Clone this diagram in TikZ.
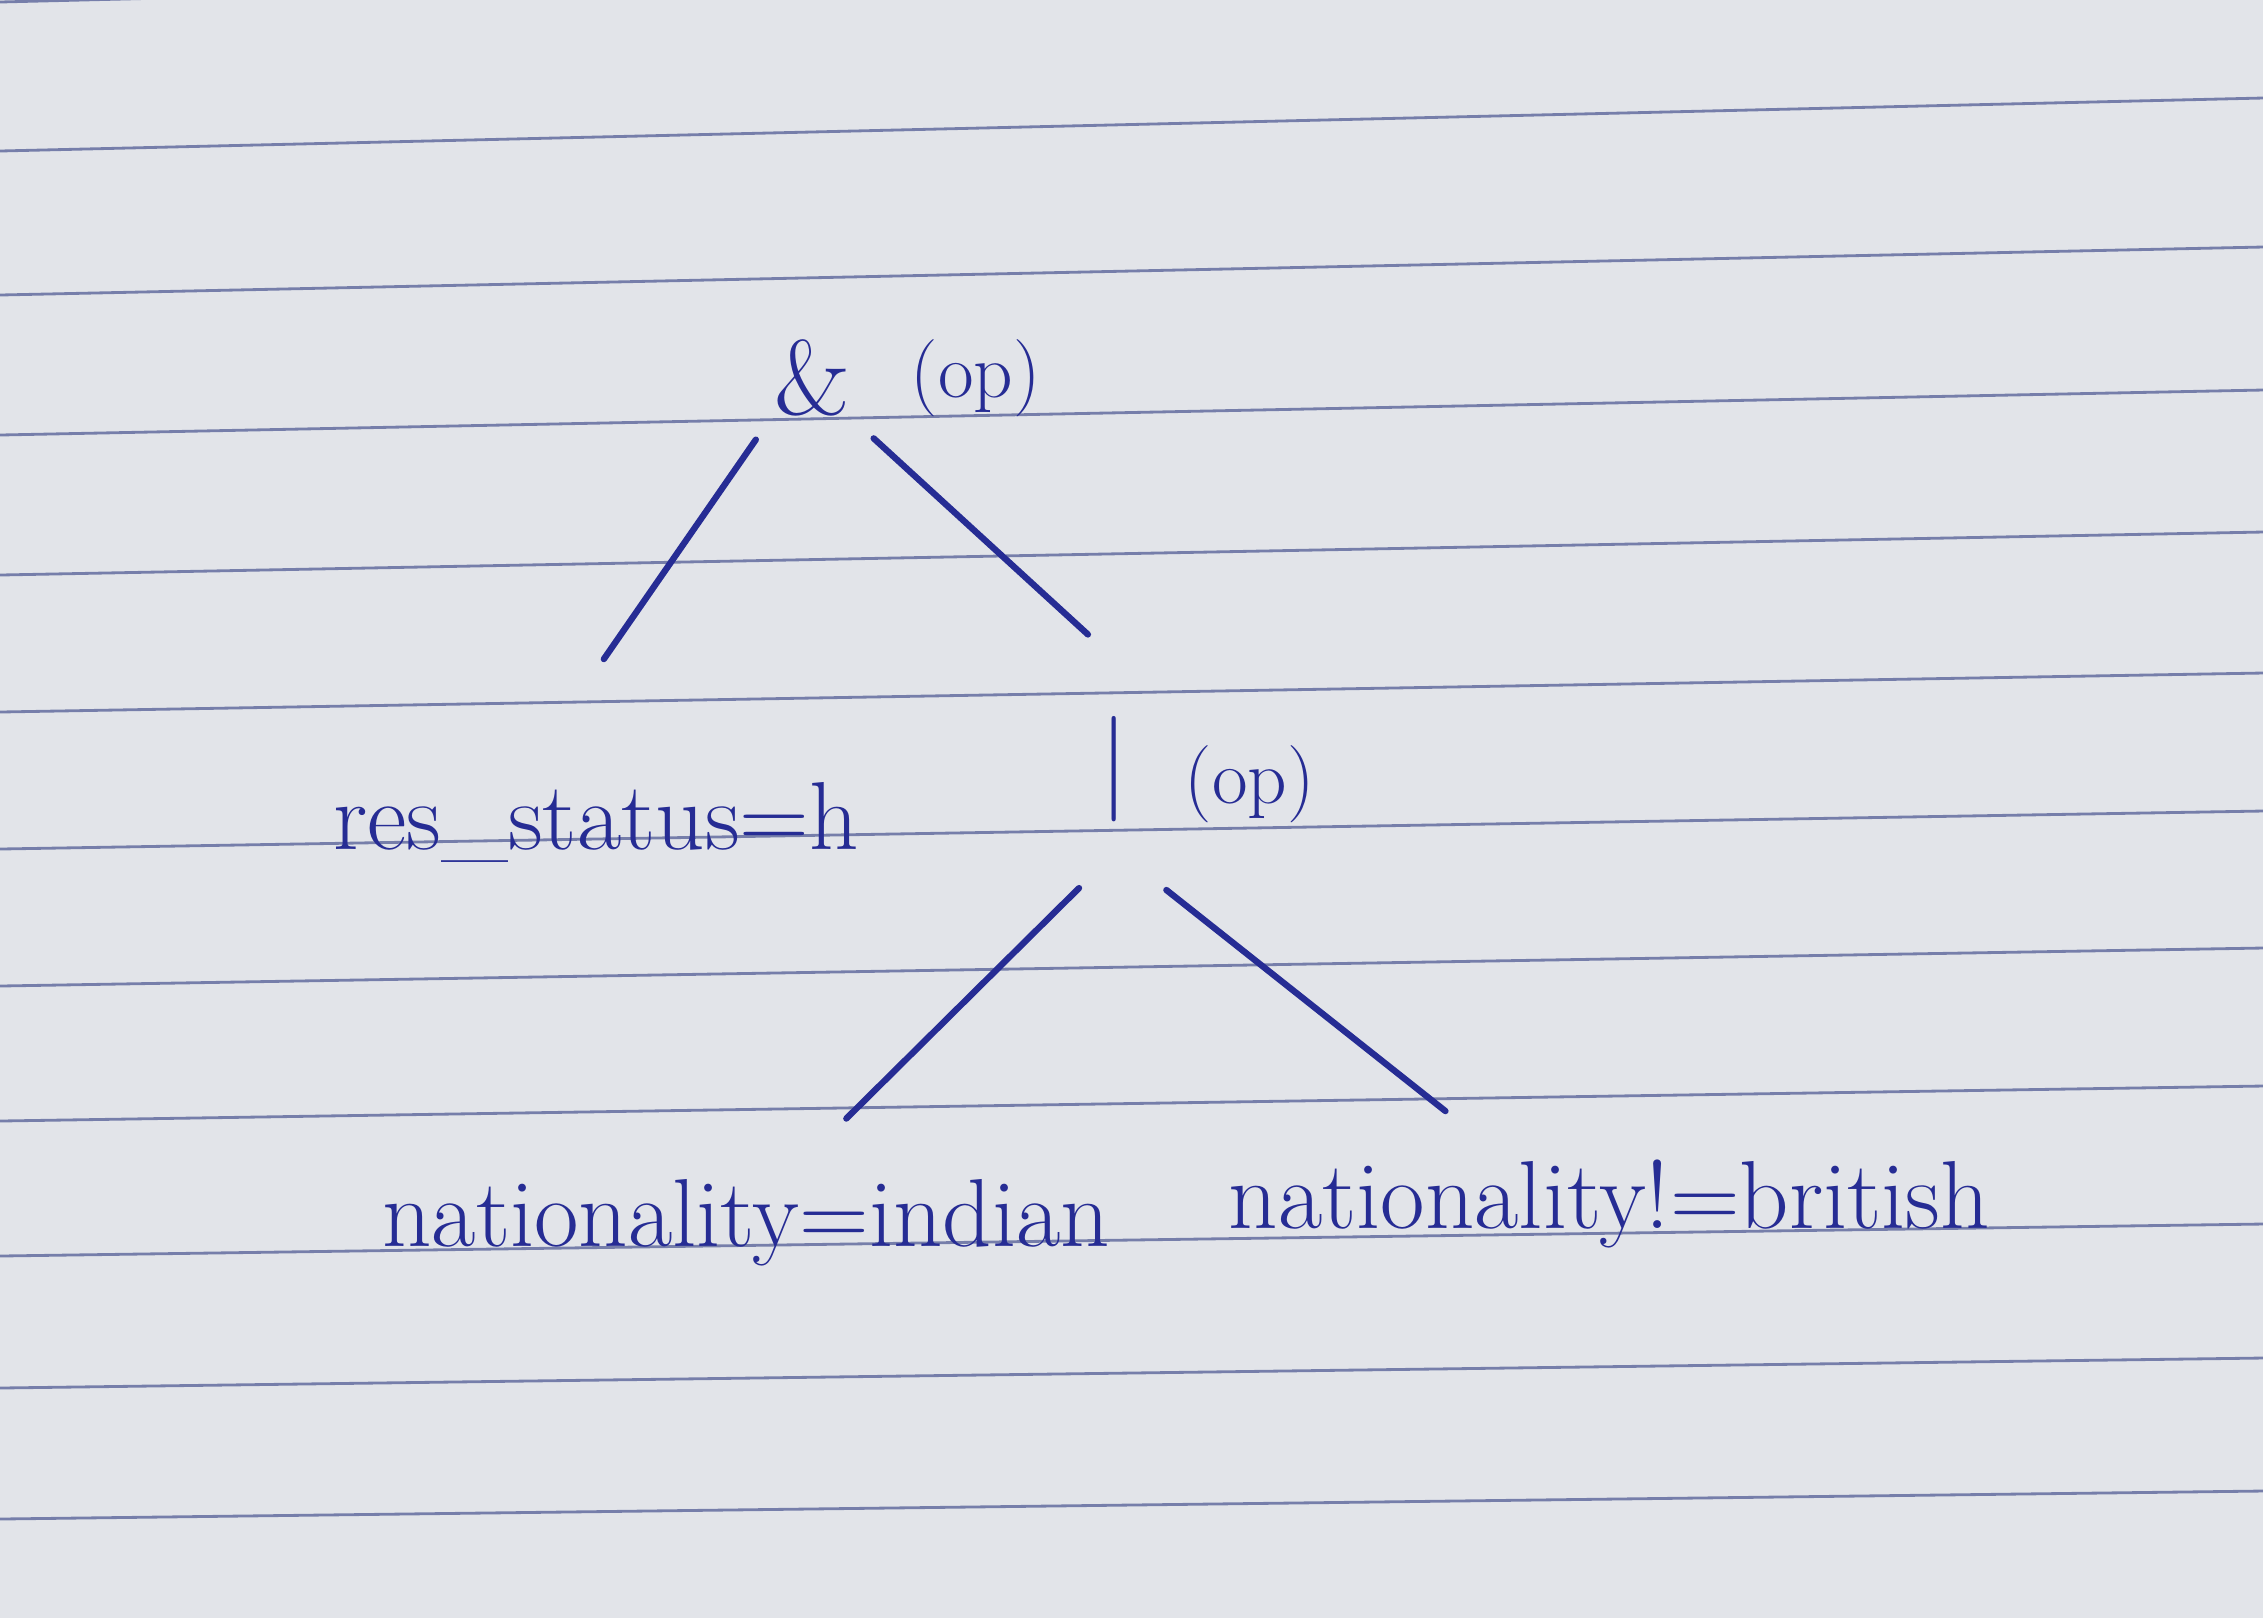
\documentclass[tikz,border=0pt]{standalone}
\usepackage{tikz}
\usetikzlibrary{positioning,calc}
\definecolor{ink}{RGB}{38,44,148}
\definecolor{paper}{RGB}{226,228,233}
\definecolor{rule}{RGB}{118,126,170}

\begin{document}
\begin{tikzpicture}[thick, on grid, line cap=round]
        \tikzstyle{op} = [text=ink, font=\fontsize{30}{30}\selectfont, inner sep=2pt]
        \tikzstyle{tag} = [text=ink, font=\fontsize{22}{22}\selectfont, inner sep=2pt]
        \tikzstyle{leaf} = [text=ink, font=\fontsize{27.5}{27.5}\selectfont, inner sep=2pt]
        \tikzstyle{branch} = [draw=ink, line width=1.8pt]
        \tikzstyle{ruling} = [draw=rule, line width=0.8pt]

        % Paper
        \fill[paper] (0,0) rectangle (22.63,-16.18);
        \useasboundingbox (0,0) rectangle (22.63,-16.18);
        \foreach \l/\r in {-0.02/0.53, -1.51/-0.98, -2.95/-2.47, -4.35/-3.90,
                           -5.75/-5.32, -7.12/-6.73, -8.49/-8.11, -9.86/-9.48,
                           -11.21/-10.86, -12.56/-12.24, -13.88/-13.58, -15.19/-14.91}
            \draw[ruling] (0,\l) -- (22.63,\r);

        % Nodes
        \node[op] (and) at (8.125,-3.781) {\&};
        \node[tag, right=1.63cm of and] (andop) {(op)};
        \node[leaf, below left=4.445cm and 2.165cm of and] (rs) {res\_status=h};
        \node[op, below right=3.911cm and 3.017cm of and] (or) {|};
        \node[tag, right=1.356cm of or, yshift=-0.145cm] (orop) {(op)};
        \node[leaf, below left=4.532cm and 3.681cm of or] (ni) {nationality=indian};
        \node[leaf, below right=4.348cm and 4.95cm of or] (nb) {nationality!=british};

        % Edges
        \path (and.south west) edge[branch, shorten <=0.18cm, shorten >=1.40cm] ($(rs.north)!0.265!(rs.north west)$);
        \path (and.south east) edge[branch, shorten <=0.2cm, shorten >=1.09cm] ($(or.north east)+(0.31,0)$);
        \path (or.south east) edge[branch, shorten <=0.82cm, shorten >=0.74cm] ($(ni.north)!0.128!(ni.north east)$);
        \path (or.south west) edge[branch, shorten <=0.96cm, shorten >=0.65cm] ($(nb.north)!0.29!(nb.north west)$);
\end{tikzpicture}
\end{document}
